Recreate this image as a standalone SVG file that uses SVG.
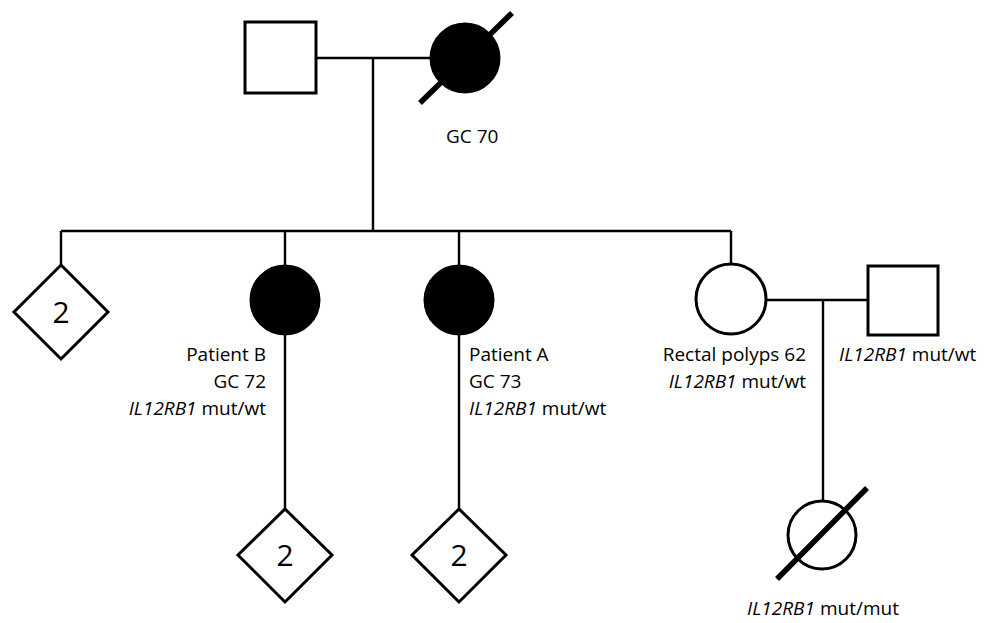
<svg xmlns="http://www.w3.org/2000/svg" width="1000" height="623" viewBox="0 0 1000 623">
<style>
.ln{stroke:#000;stroke-width:2.4;fill:none}
.sh{stroke:#000;stroke-width:3;fill:#fff}
.aff{fill:#000;stroke:#000;stroke-width:3}
.sl{stroke:#000;stroke-width:5.5;fill:none}
text{font-family:"Open Sans","Liberation Sans",sans-serif;font-size:19px;fill:#000}
.num{font-size:30px;text-anchor:middle}
.r{text-anchor:end}
.m{text-anchor:middle}
</style>
<rect width="1000" height="623" fill="#fff"/>
<g id="connectors">
<line class="ln" x1="316" y1="58" x2="430" y2="58"/>
<line class="ln" x1="373" y1="58" x2="373" y2="231"/>
<line class="ln" x1="61" y1="231" x2="731" y2="231"/>
<line class="ln" x1="61" y1="231" x2="61" y2="265"/>
<line class="ln" x1="285" y1="231" x2="285" y2="265"/>
<line class="ln" x1="459" y1="231" x2="459" y2="265"/>
<line class="ln" x1="731" y1="231" x2="731" y2="264"/>
<line class="ln" x1="285" y1="335" x2="285" y2="509"/>
<line class="ln" x1="459" y1="335" x2="459" y2="509"/>
<line class="ln" x1="767" y1="300" x2="868" y2="300"/>
<line class="ln" x1="823" y1="300" x2="823" y2="501"/>
</g>
<g id="grandfather">
<rect class="sh" x="245" y="22" width="71" height="71"/>
</g>
<g id="grandmother">
<circle class="aff" cx="465" cy="58" r="34"/>
<line class="sl" x1="420" y1="103" x2="512" y2="13"/>
<text x="446" y="143">GC 70</text>
</g>
<g id="siblings-left">
<polygon class="sh" points="61,265 108,312 61,359 14,312"/>
<text class="num" x="61" y="323">2</text>
</g>
<g id="patient-b">
<circle class="aff" cx="285" cy="300" r="34"/>
<text class="r" x="266" y="361">Patient B</text>
<text class="r" x="266" y="388">GC 72</text>
<text class="r" x="266" y="415"><tspan font-style="italic">IL12RB1</tspan> mut/wt</text>
</g>
<g id="patient-a">
<circle class="aff" cx="459" cy="300" r="34"/>
<text x="469" y="361">Patient A</text>
<text x="469" y="388">GC 73</text>
<text x="469" y="415"><tspan font-style="italic">IL12RB1</tspan> mut/wt</text>
</g>
<g id="sister">
<circle class="sh" cx="731" cy="299" r="35"/>
<text class="r" x="806" y="361">Rectal polyps 62</text>
<text class="r" x="806" y="388"><tspan font-style="italic">IL12RB1</tspan> mut/wt</text>
</g>
<g id="brother-in-law">
<rect class="sh" x="868" y="266" width="70" height="69"/>
<text x="839" y="361"><tspan font-style="italic">IL12RB1</tspan> mut/wt</text>
</g>
<g id="children-b">
<polygon class="sh" points="285,509 332,555 285,602 238,555"/>
<text class="num" x="285" y="566">2</text>
</g>
<g id="children-a">
<polygon class="sh" points="459,509 506,555 459,602 412,555"/>
<text class="num" x="459" y="566">2</text>
</g>
<g id="niece">
<circle class="sh" cx="822" cy="535" r="34"/>
<line class="sl" x1="777" y1="579" x2="867" y2="488"/>
<text class="m" x="823" y="615"><tspan font-style="italic">IL12RB1</tspan> mut/mut</text>
</g>
</svg>
